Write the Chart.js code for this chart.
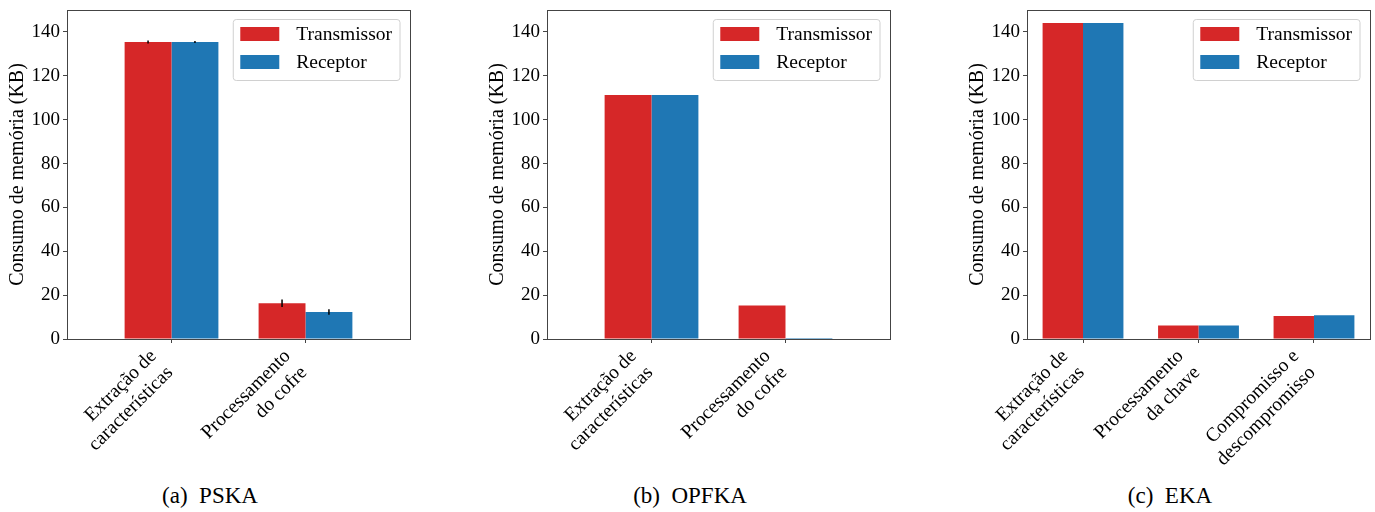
<!DOCTYPE html>
<html>
<head>
<meta charset="utf-8">
<script src="https://cdn.jsdelivr.net/npm/chart.js@4.4.0/dist/chart.umd.min.js"></script>
<style>
  body { margin: 0; background: #fff; width: 1375px; height: 512px; position: relative; overflow: hidden; }
  .panel { position: absolute; top: 0; }
  .cap { position: absolute; top: 483px; width: 300px; text-align: center;
         font-family: "Liberation Serif", serif; font-size: 23px; color: #000; }
</style>
</head>
<body>
<div class="panel" style="left:0px"><canvas id="c1" width="425" height="478"></canvas></div>
<div class="panel" style="left:480px"><canvas id="c2" width="425" height="478"></canvas></div>
<div class="panel" style="left:960px"><canvas id="c3" width="425" height="478"></canvas></div>
<div class="cap" style="left:60px">(a)&nbsp;&nbsp;PSKA</div>
<div class="cap" style="left:540px">(b)&nbsp;&nbsp;OPFKA</div>
<div class="cap" style="left:1020px">(c)&nbsp;&nbsp;EKA</div>
<script>
// dados (KB)
const seriesNames = ['Transmissor', 'Receptor'];
const seriesColors = ['#d62728', '#1f77b4'];

const pskaCats = [['Extração de', 'características'], ['Processamento', 'do cofre']];
const pskaTx = [135.4, 16.3];
const pskaRx = [135.4, 12.3];
const pskaTxErr = [0.7, 1.7];
const pskaRxErr = [0.5, 1.3];

const opfkaCats = [['Extração de', 'características'], ['Processamento', 'do cofre']];
const opfkaTx = [111.3, 15.3];
const opfkaRx = [111.3, 0.4];

const ekaCats = [['Extração de', 'características'], ['Processamento', 'da chave'], ['Compromisso e', 'descompromisso']];
const ekaTx = [144.1, 6.2, 10.5];
const ekaRx = [144.1, 6.2, 10.8];

const yTicks = [0, 20, 40, 60, 80, 100, 120, 140];
const FONT = '"Liberation Serif", "Times New Roman", serif';

// moldura completa (como no matplotlib)
const framePlugin = {
    id: 'frame',
    afterDraw(chart) {
        const a = chart.chartArea, ctx = chart.ctx;
        ctx.save();
        ctx.strokeStyle = '#444';
        ctx.lineWidth = 1;
        ctx.strokeRect(Math.round(a.left) + 0.5, Math.round(a.top) + 0.5,
            Math.round(a.right - a.left), Math.round(a.bottom - a.top));
        ctx.restore();
    }
};

// barras de erro
const errPlugin = {
    id: 'errbars',
    afterDatasetsDraw(chart) {
        const ctx = chart.ctx, y = chart.scales.y;
        ctx.save();
        ctx.strokeStyle = '#000';
        ctx.lineWidth = 1.5;
        chart.data.datasets.forEach((ds, di) => {
            if (!ds.err) return;
            const meta = chart.getDatasetMeta(di);
            meta.data.forEach((bar, i) => {
                const v = ds.data[i].y, e = ds.err[i];
                if (!e) return;
                ctx.beginPath();
                ctx.moveTo(bar.x, y.getPixelForValue(v - e));
                ctx.lineTo(bar.x, y.getPixelForValue(v + e));
                ctx.stroke();
            });
        });
        ctx.restore();
    }
};

// legenda dentro da área do gráfico, canto superior direito
const legendPlugin = {
    id: 'innerLegend',
    afterDraw(chart) {
        const a = chart.chartArea, ctx = chart.ctx;
        ctx.save();
        ctx.font = '19.5px ' + FONT;
        let tw = 0;
        chart.data.datasets.forEach(ds => { tw = Math.max(tw, ctx.measureText(ds.label).width); });
        const w = 7 + 39 + 17 + tw + 8, h = 61;
        const x0 = a.right - 10 - w, y0 = a.top + 9.5;
        ctx.fillStyle = 'rgba(255,255,255,0.8)';
        ctx.strokeStyle = '#d0d0d0';
        ctx.lineWidth = 1;
        ctx.beginPath();
        ctx.roundRect(x0, y0, w, h, 3);
        ctx.fill();
        ctx.stroke();
        chart.data.datasets.forEach((ds, i) => {
            const ry = y0 + 7.5 + i * 28;
            ctx.fillStyle = ds.backgroundColor;
            ctx.fillRect(x0 + 7, ry, 39, 14);
            ctx.fillStyle = '#000';
            ctx.textBaseline = 'middle';
            ctx.fillText(ds.label, x0 + 63, ry + 8);
        });
        ctx.restore();
    }
};

function makeChart(id, cats, tx, rx, txErr, rxErr, xPad) {
    const toPts = arr => arr.map((v, i) => ({ x: i, y: v }));
    const data = {
        datasets: [
            { label: seriesNames[0], data: toPts(tx), err: txErr, backgroundColor: seriesColors[0],
              borderWidth: 0, categoryPercentage: 0.7, barPercentage: 1.0 },
            { label: seriesNames[1], data: toPts(rx), err: rxErr, backgroundColor: seriesColors[1],
              borderWidth: 0, categoryPercentage: 0.7, barPercentage: 1.0 }
        ]
    };
    const config = {
        type: 'bar',
        data: data,
        plugins: [framePlugin, errPlugin, legendPlugin],
        options: {
            responsive: false,
            animation: false,
            devicePixelRatio: 1,
            layout: { padding: { left: 0, right: 15, top: 10, bottom: 0 } },
            plugins: { legend: { display: false }, tooltip: { enabled: false } },
            scales: {
                x: {
                    type: 'linear',
                    min: -xPad,
                    max: cats.length - 1 + xPad,
                    offset: false,
                    afterBuildTicks: s => { s.ticks = cats.map((c, i) => ({ value: i })); },
                    afterFit: s => { s.height = 139; s.paddingLeft = 0; s.paddingRight = 0; },
                    ticks: {
                        autoSkip: false,
                        minRotation: 45,
                        maxRotation: 45,
                        padding: 2,
                        labelOffset: -18,
                        color: '#000',
                        font: { family: FONT, size: 19.5 },
                        callback: v => cats[v]
                    },
                    grid: { offset: false, drawOnChartArea: false, drawTicks: true, tickLength: 4, color: '#444' },
                    border: { color: '#444' }
                },
                y: {
                    min: 0,
                    max: 150,
                    afterBuildTicks: s => { s.ticks = yTicks.map(v => ({ value: v })); },
                    afterFit: s => { s.width = 67; s.paddingTop = 0; s.paddingBottom = 0; },
                    ticks: { padding: 3, color: '#000', font: { family: FONT, size: 19 } },
                    grid: { drawOnChartArea: false, drawTicks: true, tickLength: 4, color: '#444' },
                    border: { color: '#444' },
                    title: {
                        display: true,
                        text: 'Consumo de memória (KB)',
                        color: '#000',
                        font: { family: FONT, size: 20 },
                        padding: { top: 6, bottom: 0 }
                    }
                }
            }
        }
    };
    const ctx = document.getElementById(id).getContext('2d');
    return new Chart(ctx, config);
}

makeChart('c1', pskaCats, pskaTx, pskaRx, pskaTxErr, pskaRxErr, 0.78);
makeChart('c2', opfkaCats, opfkaTx, opfkaRx, null, null, 0.78);
makeChart('c3', ekaCats, ekaTx, ekaRx, null, null, 0.485);
</script>
</body>
</html>
